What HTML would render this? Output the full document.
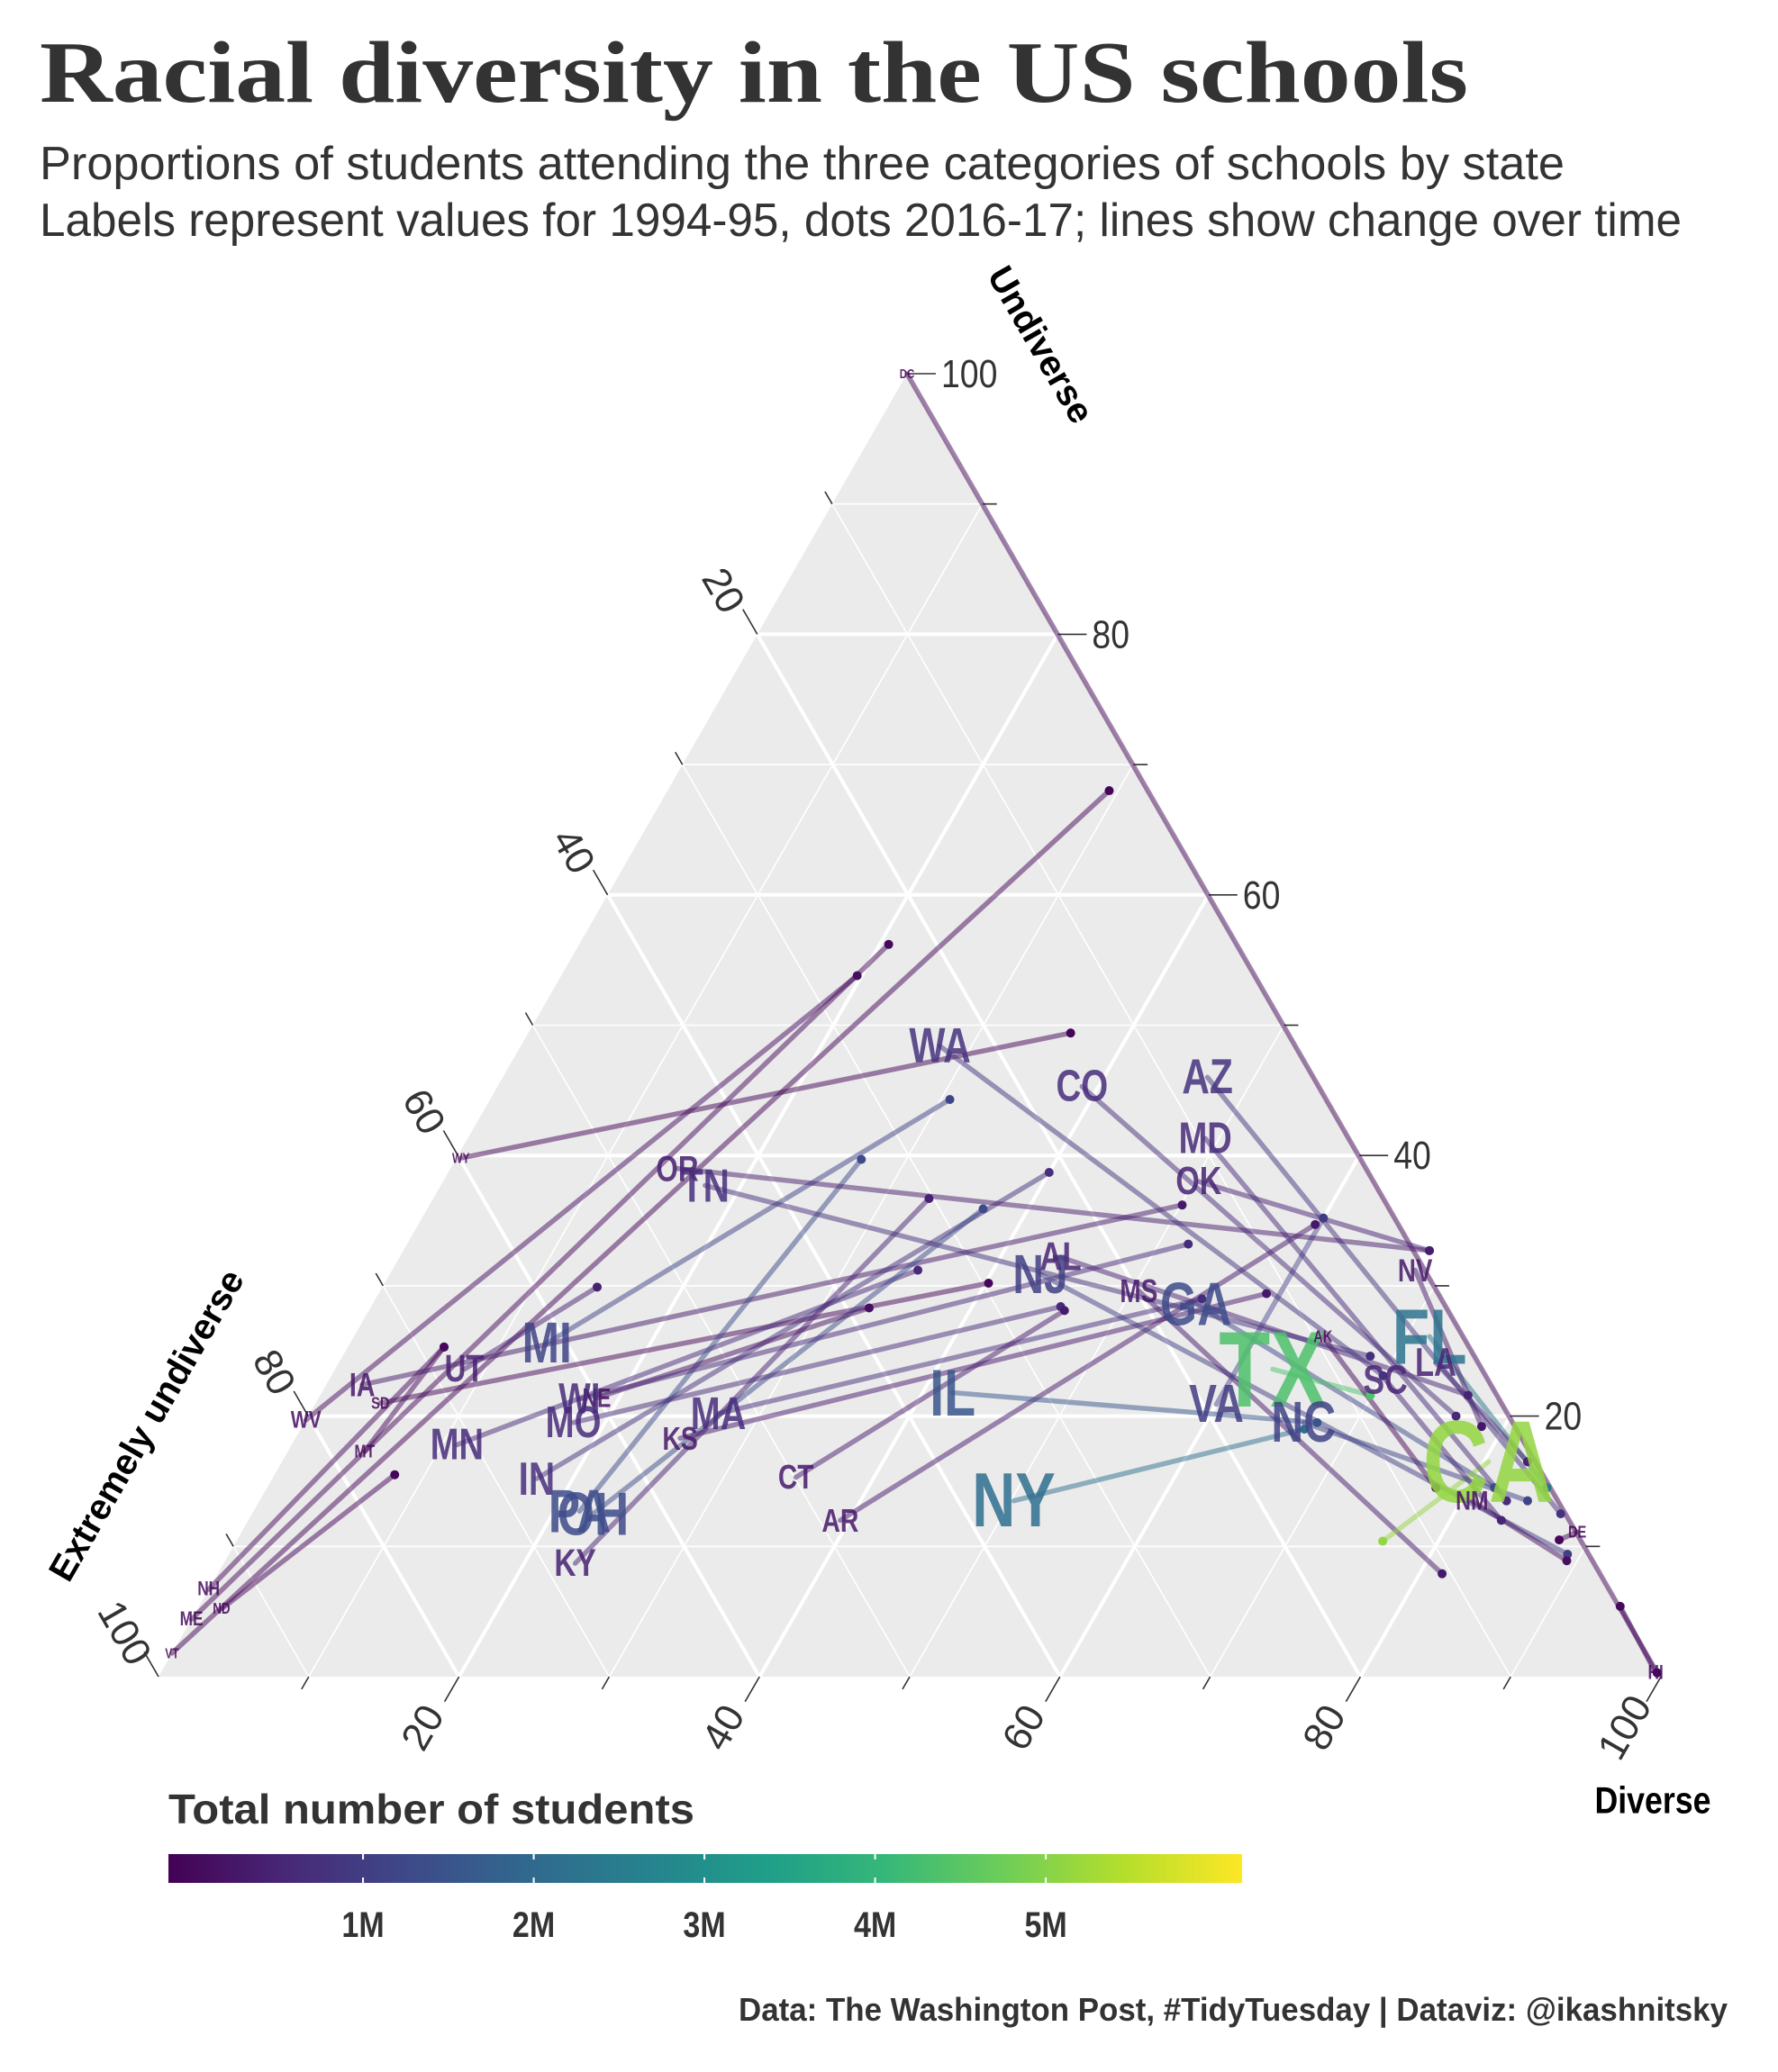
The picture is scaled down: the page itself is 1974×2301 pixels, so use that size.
<!DOCTYPE html>
<html><head><meta charset="utf-8"><style>
html,body{margin:0;padding:0;background:#fff;}
svg{display:block;}
text{font-family:"Liberation Sans Narrow","Liberation Sans",sans-serif;}
</style></head><body>
<svg id="chart" width="1974" height="2301" viewBox="0 0 1974 2301" xmlns="http://www.w3.org/2000/svg">
<text x="44" y="113" font-weight="bold" font-size="98" fill="#333" textLength="1586" lengthAdjust="spacingAndGlyphs" style="font-family:'Liberation Serif',serif">Racial diversity in the US schools</text>
<text x="44" y="199" font-size="52" fill="#333" textLength="1693" lengthAdjust="spacingAndGlyphs">Proportions of students attending the three categories of schools by state</text>
<text x="44" y="262" font-size="52" fill="#333" textLength="1823" lengthAdjust="spacingAndGlyphs">Labels represent values for 1994-95, dots 2016-17; lines show change over time</text>
<g id="plot"></g>
<text x="187" y="2025" font-size="46" font-weight="bold" fill="#333" textLength="584" lengthAdjust="spacingAndGlyphs">Total number of students</text>
<g id="legend"></g>
<text x="1918" y="2244" text-anchor="end" font-size="36" font-weight="bold" fill="#333" textLength="1098" lengthAdjust="spacingAndGlyphs">Data: The Washington Post, #TidyTuesday | Dataviz: @ikashnitsky</text>
</svg>
<script>
const states = ["DC","WY","WV","VT","ME","NH","ND","MT","SD","IA","UT","MN","MI","IN","OH","PA","KY","MO","NE","WI","KS","MA","CT","AR","NY","IL","NJ","AL","MS","GA","TX","CA","FL","LA","SC","AK","NV","NM","DE","HI","NC","VA","OK","MD","AZ","CO","OR","TN","WA"];
const diverse94 = [0,0.3,0,0,0,0,1.6,5.1,4.3,2.4,8.6,11.0,13.1,17.6,22.7,21.7,23.4,17.9,18.5,17.4,25.6,27.2,34.8,39.4,50.2,42.0,43.3,44.0,50.5,54.8,62.4,80.3,71.6,73.0,70.3,64.5,68.1,80.7,88.9,99.5,66.5,60.0,50.3,49.1,46.9,38.9,15.1,17.6,27.9];
const undiverse94 = [100,39.8,19.7,1.8,4.4,6.7,5.2,17.3,21.0,22.4,23.6,17.8,25.6,15.2,12.5,12.7,8.7,19.5,21.4,21.3,18.3,20.2,15.3,12.0,13.5,21.8,30.9,32.2,29.6,28.6,23.6,16.5,26.1,24.1,22.8,26.1,31.2,13.5,11.1,0.3,19.5,20.9,38.0,41.3,46.0,45.3,39.0,37.7,48.4];
const diverse16 = [99.6,36.1,19.7,29.4,20.6,6.4,8.0,6.4,40.2,50.1,14.3,35.0,30.6,40.0,37.0,27.0,33.0,45.9,33.2,52.0,59.1,55.0,46.3,59.7,66.8,67.4,89.1,76.4,81.5,81.7,69.9,76.3,85.2,82.9,83.4,77.8,78.5,89.3,88.0,94.6,84.4,60.0,68.3,83.0,87.1,76.4,68.3,68.4,70.0];
const undiverse16 = [0.3,49.4,53.8,68.0,56.2,25.3,15.5,25.3,30.2,36.2,29.9,31.2,44.3,38.7,35.9,39.7,36.7,28.4,28.3,33.2,29.4,29.0,28.1,34.7,19.0,19.5,9.4,21.6,7.9,14.5,21.6,10.4,14.5,16.5,12.0,14.5,19.2,8.9,10.5,5.4,13.5,35.2,32.7,13.5,12.5,20.0,32.7,24.6,23.1];
const studentsM = [0.08,0.09,0.27,0.09,0.18,0.18,0.11,0.15,0.13,0.5,0.66,0.88,1.5,1.0,1.7,1.7,0.68,0.9,0.32,0.87,0.49,0.95,0.53,0.49,2.7,2.0,1.4,0.74,0.48,1.7,5.3,6.2,2.8,0.72,0.77,0.13,0.47,0.33,0.13,0.18,1.5,1.3,0.7,0.88,1.1,0.9,0.6,1.0,1.1];
const axisTicks = [20,40,60,80,100];
const legendTicks = [1,2,3,4,5];
const legendLabels = ["1M","2M","3M","4M","5M"];

const NS="http://www.w3.org/2000/svg";
const BL=[176,1862], BR=[1844,1862], TOP=[1007,415];
function px(d,u){return [BL[0]+d/100*(BR[0]-BL[0])+u/100*(TOP[0]-BL[0]), BL[1]-u/100*(BL[1]-TOP[1])];}
const VIR=[[68,1,84],[72,40,120],[62,73,137],[49,104,142],[38,130,142],[31,158,137],[53,183,121],[109,205,89],[180,222,44],[253,231,37]];
function viridis(t){t=Math.max(0,Math.min(1,t));const s=t*(VIR.length-1);const i=Math.min(VIR.length-2,Math.floor(s));const f=s-i;const c=VIR[i].map((v,k)=>Math.round(v+(VIR[i+1][k]-v)*f));return `rgb(${c[0]},${c[1]},${c[2]})`;}
function colorOf(m){return viridis(m/7.4);}
function el(tag,attrs,parent){const e=document.createElementNS(NS,tag);for(const k in attrs)e.setAttribute(k,attrs[k]);parent.appendChild(e);return e;}
const plot=document.getElementById('plot');

const tri=el('polygon',{points:[BL,BR,TOP].map(p=>p.join(',')).join(' '),fill:'#EBEBEB'},plot);


for(let v=10;v<100;v+=10){
  const major=v%20===0; const w=major?4:1.6;
  const segs=[[px(0,v),px(100-v,v)],[px(v,0),px(v,100-v)],[px(0,100-v),px(100-v,0)]];
  segs.forEach(s=>{
    const g=el('line',{x1:s[0][0],y1:s[0][1],x2:s[1][0],y2:s[1][1],stroke:'#fff','stroke-width':w},plot);
    
    
  });
}
for(let v=10;v<=100;v+=10){
  const major=v%20===0; const L=major?32:16;
  let p=px(100-v,v);
  let t=el('line',{x1:p[0],y1:p[1],x2:p[0]+L,y2:p[1],stroke:'#333','stroke-width':1.6},plot);
  
  
  p=px(0,100-v);
  t=el('line',{x1:p[0],y1:p[1],x2:p[0]-L*0.5,y2:p[1]-L*0.866,stroke:'#333','stroke-width':1.6},plot);
  
  
  p=px(v,0);
  t=el('line',{x1:p[0],y1:p[1],x2:p[0]-L*0.5,y2:p[1]+L*0.866,stroke:'#333','stroke-width':1.6},plot);
  
  
}
axisTicks.forEach(v=>{
  let p=px(100-v,v);
  let t=el('text',{x:p[0]+38,y:p[1]+15,'font-size':44,fill:'#333',transform:`translate(${p[0]+38} 0) scale(0.85 1) translate(${-(p[0]+38)} 0)`},plot);t.textContent=v;
  
  
  p=px(0,100-v);
  let q=[p[0]-56*0.5-10,p[1]-56*0.866];
  t=el('text',{x:q[0],y:q[1],'font-size':44,fill:'#333','text-anchor':'middle','dominant-baseline':'central',transform:`rotate(60 ${q[0]} ${q[1]})`},plot);t.textContent=v;
  
  
  p=px(v,0);
  q=[p[0]-56*0.5-12,p[1]+56*0.866+8];
  t=el('text',{x:q[0],y:q[1],'font-size':44,fill:'#333','text-anchor':'middle','dominant-baseline':'central',transform:`rotate(-60 ${q[0]} ${q[1]})`},plot);t.textContent=v;
  
  
});
let at=el('text',{x:1155,y:383,'font-size':40,'font-weight':'bold',fill:'#000','text-anchor':'middle','dominant-baseline':'central',transform:'rotate(60 1155 383)'},plot);at.textContent='Undiverse';


at=el('text',{x:163,y:1583,'font-size':40,'font-weight':'bold',fill:'#000','text-anchor':'middle','dominant-baseline':'central',transform:'rotate(-60 163 1583)'},plot);at.textContent='Extremely undiverse';


at=el('text',{x:1835,y:2000,'font-size':42,'font-weight':'bold',fill:'#000','text-anchor':'middle','dominant-baseline':'central',transform:'translate(1835 0) scale(0.85 1) translate(-1835 0)'},plot);at.textContent='Diverse';



states.forEach((s,i)=>{
  const a=px(diverse94[i],undiverse94[i]), b=px(diverse16[i],undiverse16[i]);
  const ln=el('line',{x1:a[0],y1:a[1],x2:b[0],y2:b[1],stroke:colorOf(studentsM[i]),'stroke-width':5.5,'stroke-opacity':0.5,'stroke-linecap':'round'},plot);
  
  
});
states.forEach((s,i)=>{
  const b=px(diverse16[i],undiverse16[i]);
  const c=el('circle',{cx:b[0],cy:b[1],r:5,fill:colorOf(studentsM[i])},plot);
  
  
});
states.forEach((s,i)=>{
  const a=px(diverse94[i],undiverse94[i]);
  const fs=(52*Math.sqrt(studentsM[i])).toFixed(1);
  const t=el('text',{x:a[0],y:a[1],'font-size':fs,'font-weight':'bold',fill:colorOf(studentsM[i]),'fill-opacity':0.85,'text-anchor':'middle','dominant-baseline':'central',transform:`translate(${a[0]} 0) scale(0.78 1) translate(${-a[0]} 0)`},plot);
  t.textContent=s;
  
  
});

const leg=document.getElementById('legend');
const defs=el('defs',{},leg);
const grad=el('linearGradient',{id:'vg',x1:0,x2:1,y1:0,y2:0},defs);
VIR.forEach((c,k)=>el('stop',{offset:k/(VIR.length-1),'stop-color':`rgb(${c})`},grad));
const LX0=187,LX1=1379, LD0=-0.14, LD1=6.15;
function lx(m){return LX0+(m-LD0)/(LD1-LD0)*(LX1-LX0);}
const bar=el('rect',{x:LX0,y:2059,width:LX1-LX0,height:32,fill:'url(#vg)'},leg);


legendTicks.forEach((m,k)=>{
  const x=lx(m);
  const tk=el('line',{x1:x,y1:2059,x2:x,y2:2065,stroke:'#fff','stroke-width':2},leg);
  
  
  const tk2=el('line',{x1:x,y1:2085,x2:x,y2:2091,stroke:'#fff','stroke-width':2},leg);
  
  
  const t=el('text',{x:x,y:2151,'font-size':40,'font-weight':'bold',fill:'#333','text-anchor':'middle',transform:`translate(${x} 0) scale(0.85 1) translate(${-x} 0)`},leg);
  t.textContent=legendLabels[k];
  
  
});
</script>
</body></html>
